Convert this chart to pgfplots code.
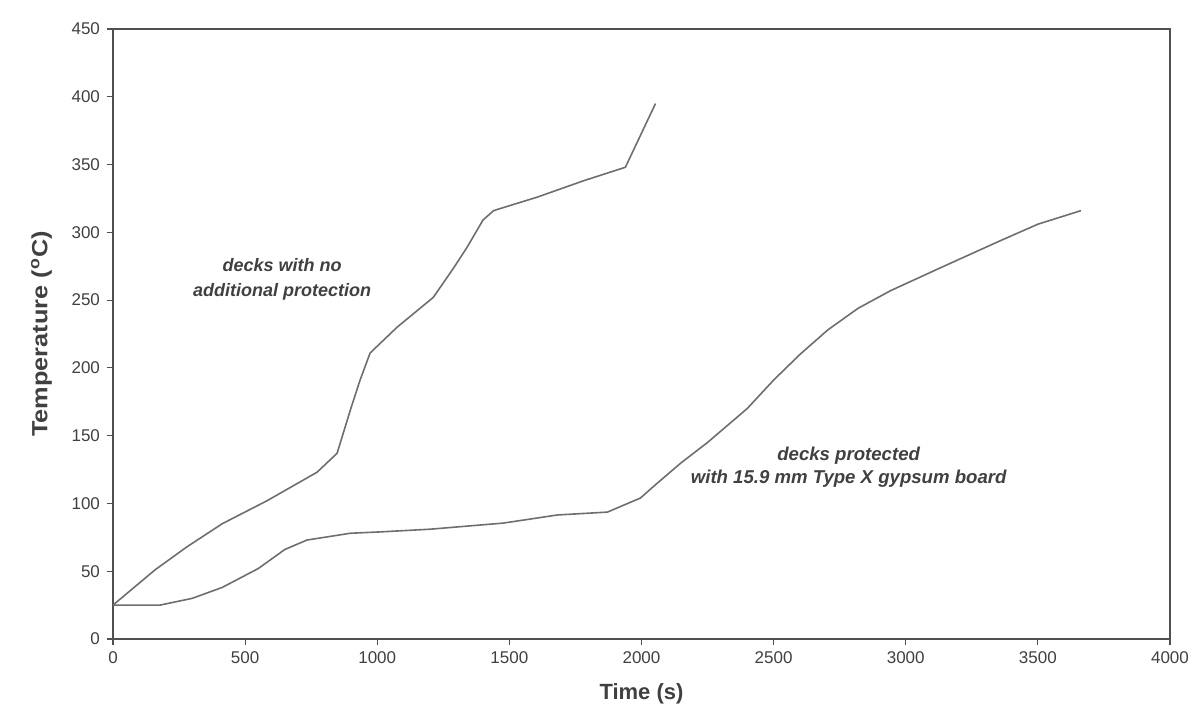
\documentclass[border=0pt]{standalone}
\usepackage{graphicx}
\usepackage{pgfplots}
\pgfplotsset{compat=1.18}
\usepackage{fontspec}
\setmainfont{Liberation Sans}
\usetikzlibrary{calc}
\definecolor{curve}{RGB}{110,110,110}
\definecolor{axcol}{RGB}{80,80,80}
\begin{document}
\begin{tikzpicture}
\begin{axis}[
  scale only axis,
  width=528.5pt, height=305pt,
  xmin=0, xmax=4000, ymin=0, ymax=450,
  xtick={0,500,...,4000}, ytick={0,50,...,450},
  tick align=outside,
  xtick pos=left, ytick pos=left,
  major tick length=3pt,
  axis line style={axcol, line width=1pt},
  tick style={axcol, line width=0.6pt},
  /pgf/number format/assume math mode=true,
  /pgf/number format/set thousands separator={},
  tick label style={font=\fontsize{8.5}{9}\selectfont, text=black!75},
  xlabel={\textbf{Time (s)}},
  ylabel={\scalebox{1.15}[1]{\textbf{Temperature (\textsuperscript{o}C)}}},
  xlabel style={font=\fontsize{11}{12}\selectfont, text=black!75, yshift=-3pt},
  ylabel style={font=\fontsize{11}{12}\selectfont, text=black!75, yshift=3pt},
]
\addplot[curve, line width=0.8pt] coordinates {
(0,25) (159,51) (280,68) (413,85) (583,102) (700,115) (772,123) (848,137)
(900,170) (935,191) (973,211) (1075,230) (1212,252) (1290,274) (1340,289) (1400,309) (1440,316)
(1606,326) (1780,338) (1939,348) (2053,395)
};
\addplot[curve, line width=0.8pt] coordinates {
(0,25) (178,25) (300,30) (413,38) (550,52) (650,66) (734,73) (898,78) (1011,79) (1200,81)
(1477,85.5) (1682,91.5) (1871,93.6) (1996,104) (2060,115) (2150,130) (2250,145)
(2400,170) (2500,191) (2600,210) (2705,228) (2820,244) (2943,257) (3133,274) (3360,294)
(3500,306) (3663,316)
};
\node[align=center, font=\fontsize{9}{12.5}\selectfont\bfseries\itshape, text=black!75]
  at (axis cs:640,265) {decks with no\\additional protection};
\node[align=center, font=\fontsize{9.3}{11.5}\selectfont\bfseries\itshape, text=black!75]
  at (axis cs:2784,127) {decks protected\\with 15.9 mm Type X gypsum board};
\end{axis}
\pgfresetboundingbox
\path ($(current axis.south west)+(-56.5pt,-36pt)$) rectangle ($(current axis.north east)+(12.5pt,14.5pt)$);
\end{tikzpicture}
\end{document}
